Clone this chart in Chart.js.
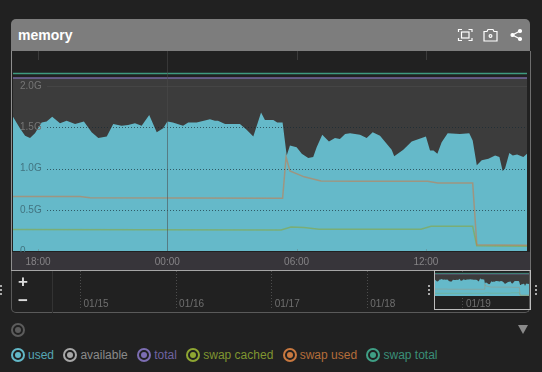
<!DOCTYPE html>
<html>
<head>
<meta charset="utf-8">
<title>memory</title>
<script src="https://cdn.jsdelivr.net/npm/chart.js@4"></script>
<style>
  html, body { margin: 0; padding: 0; background: #212121; }
  body { width: 542px; height: 372px; position: relative; overflow: hidden; font-family: "Liberation Sans", Arial, sans-serif; }
  .abs { position: absolute; }
  #header { left: 11px; top: 19px; width: 519px; height: 32px; background: #7d7d7d; border-radius: 5px 5px 0 0; }
  #title { left: 18px; top: 27px; font-size: 14px; line-height: 16px; font-weight: bold; color: #fff; }
  #mainWrap { left: 12px; top: 51px; width: 518px; height: 219px; }
  #miniWrap { left: 12px; top: 271px; width: 518px; height: 39px; }
  #leftLine { left: 11px; top: 51px; width: 1px; height: 219px; background: #8f8f8f; }
  #rightLine { left: 530px; top: 51px; width: 1px; height: 219px; background: #6e6e6e; }
  #midLine { left: 11px; top: 270px; width: 520px; height: 1px; background: #a5a5a5; }
  #miniBox { left: 11px; top: 271px; width: 519px; height: 42px; box-sizing: border-box; border-left: 1px solid #5a5a5a; border-right: 1px solid #5a5a5a; border-bottom: 1px solid #5a5a5a; border-radius: 0 0 5px 5px; }
  #btnLine { left: 52px; top: 271px; width: 1px; height: 42px; background: #333; }
  .zoomBtn { left: 13px; width: 20px; text-align: center; font-size: 17px; line-height: 18px; font-weight: bold; color: #dcdcdc; }
  #selWin { left: 434px; top: 270px; width: 97px; height: 40px; box-sizing: border-box; border: 1px solid #bdbdbd; }
  .grip { width: 2px; height: 2px; top: 289px; background: #aaa; box-shadow: 0 -4px 0 #aaa, 0 4px 0 #aaa; }
  #legend { left: 11px; top: 348px; display: flex; gap: 9.4px; font-size: 12px; line-height: 14px; }
  .item { display: flex; align-items: center; gap: 3px; }
  .dot { width: 14px; height: 14px; box-sizing: border-box; border-radius: 50%; border: 2px solid currentColor; position: relative; display: block; }
  .dot::after { content: ""; position: absolute; left: 2px; top: 2px; width: 6px; height: 6px; border-radius: 50%; background: currentColor; }
</style>
</head>
<body>
<div class="abs" id="header"></div>
<div class="abs" id="title">memory</div>
<svg class="abs" style="left:456px;top:27px" width="68" height="16" fill="none" stroke="#fff" stroke-width="1.2">
  <path d="M2.500 5V2.500H6M12.500 2.500H16V5M2.500 11V13.500H6M12.500 13.500H16V11"/>
  <rect x="5.500" y="5" width="7.500" height="6"/>
  <path d="M28 4.500H31L32 2.500H37L38 4.500H41V14H28Z"/>
  <circle cx="34.500" cy="9" r="1.400"/>
  <circle cx="64" cy="4" r="1.500" fill="#fff"/>
  <circle cx="64" cy="12" r="1.500" fill="#fff"/>
  <circle cx="56.500" cy="8" r="1.500" fill="#fff"/>
  <path d="M64 4L56.500 8L64 12" stroke-width="1.300"/>
</svg>
<div class="abs" id="mainWrap"><canvas id="mainChart" width="518" height="219"></canvas></div>
<div class="abs" id="leftLine"></div>
<div class="abs" id="rightLine"></div>
<div class="abs" id="midLine"></div>
<div class="abs" id="miniWrap"><canvas id="miniChart" width="518" height="39"></canvas></div>
<div class="abs" id="miniBox"></div>
<div class="abs" id="btnLine"></div>
<div class="abs zoomBtn" style="top:273px">+</div>
<div class="abs zoomBtn" style="top:292px">−</div>
<div class="abs" id="selWin"></div>
<div class="abs grip" style="left:0"></div>
<div class="abs grip" style="left:428px"></div>
<div class="abs grip" style="left:535px"></div>
<div class="abs dot" style="left:11px;top:323px;color:#5c5c5c"></div>
<svg class="abs" style="left:518px;top:325px" width="10" height="9"><path d="M0 0H10L5 9Z" fill="#8a8a8a"/></svg>
<div class="abs" id="legend"></div>

<script>
// hours counted from 18:00 on 01/18
const usedHours = [-1.16, -0.84, -0.6, -0.37, -0.14, 0.17, 0.4, 0.66, 1.02, 1.33, 1.72, 2.13, 2.49, 2.8, 3.19, 3.49, 3.88, 4.18, 4.5, 4.81, 5.16, 5.51, 5.81, 6, 6.26, 6.73, 6.97, 7.36, 7.98, 8.21, 8.35, 8.68, 9.37, 9.68, 9.99, 10.35, 10.53, 10.92, 11.1, 11.35, 11.54, 11.69, 12, 12.24, 12.54, 12.77, 12.93, 13.19, 13.5, 13.78, 14.01, 14.25, 14.48, 14.94, 15.25, 15.53, 15.87, 16.41, 16.53, 16.95, 17.34, 18, 18.19, 18.35, 18.53, 18.73, 19.01, 19.58, 20.01, 20.17, 20.36, 20.59, 20.9, 21.21, 21.41, 21.56, 21.67, 21.87, 22.03, 22.23, 22.52, 22.69];
const usedValues = [1.63, 1.49, 1.4, 1.37, 1.43, 1.56, 1.57, 1.63, 1.55, 1.58, 1.54, 1.57, 1.44, 1.37, 1.39, 1.54, 1.52, 1.53, 1.55, 1.52, 1.65, 1.44, 1.49, 1.57, 1.56, 1.52, 1.56, 1.56, 1.6, 1.58, 1.58, 1.54, 1.54, 1.47, 1.39, 1.68, 1.59, 1.59, 1.56, 1.56, 1.16, 1.28, 1.26, 1.18, 1.13, 1.14, 1.26, 1.41, 1.33, 1.37, 1.36, 1.42, 1.43, 1.41, 1.37, 1.44, 1.4, 1.23, 1.15, 1.23, 1.33, 1.39, 1.22, 1.22, 1.18, 1.32, 1.43, 1.42, 1.43, 1.34, 1.04, 1.1, 1.12, 1.16, 1.14, 0.97, 1, 1.19, 1.16, 1.17, 1.14, 1.18];
const swapUsedHours = [-1.16, 1.95, 2.41, 11.35, 11.51, 11.69, 12.35, 13.13, 14.66, 18.08, 18.55, 20.17, 20.36, 22.69];
const swapUsedValues = [0.66, 0.66, 0.645, 0.64, 1.14, 0.97, 0.9, 0.85, 0.845, 0.845, 0.825, 0.825, 0.077, 0.07];
const swapCachedHours = [-1.16, 11.28, 11.74, 12.34, 13.04, 17.77, 18.24, 20.17, 20.36, 22.69];
const swapCachedValues = [0.26, 0.256, 0.29, 0.285, 0.265, 0.265, 0.3, 0.3, 0.065, 0.057];
const flatHours = [-1.16, 22.69];
const totalValues = [2.1, 2.1];
const availableValues = [2.1, 2.1];
const swapTotalValues = [2.155, 2.155];

const xTickHours = [0, 6, 12, 18];
const xTickLabels = ["18:00", "00:00", "06:00", "12:00"];
const yTickValues = [0, 0.5, 1, 1.5, 2];
const yTickLabels = ["0", "0.5G", "1.0G", "1.5G", "2.0G"];
const dayTickHours = [-90, -66, -42, -18, 6];
const dayTickLabels = ["01/15", "01/16", "01/17", "01/18", "01/19"];

const legendNames = ["used", "available", "total", "swap cached", "swap used", "swap total"];
const legendIconColors = ["#62b8c8", "#a8a8a8", "#7c6db2", "#8ea632", "#c8783f", "#3f9f85"];
const legendTextColors = ["#55a5b4", "#8a8a8a", "#6f63a2", "#7f9530", "#b46d3a", "#3a8f78"];

function points(hours, values) {
  return hours.map((h, i) => ({ x: h, y: values[i] }));
}

// same series for the big chart and the overview
function buildDatasets(lineWidth, lineAlpha) {
  return [
    { data: points(flatHours, swapTotalValues), borderColor: "#3f9a80", borderWidth: lineWidth, fill: false, order: 1 },
    { data: points(flatHours, totalValues), borderColor: "#75689f", borderWidth: lineWidth, fill: false, order: 2 },
    { data: points(swapUsedHours, swapUsedValues), borderColor: "rgba(205,120,70," + lineAlpha + ")", borderWidth: lineWidth, fill: false, order: 3 },
    { data: points(swapCachedHours, swapCachedValues), borderColor: "rgba(140,165,50," + lineAlpha + ")", borderWidth: lineWidth, fill: false, order: 4 },
    { data: points(usedHours, usedValues), borderColor: "#65b9c9", backgroundColor: "#65b9c9", borderWidth: 0, fill: "origin", order: 5 },
    { data: points(flatHours, availableValues), borderColor: "#3c3c3c", backgroundColor: "#3c3c3c", borderWidth: 0, fill: "origin", order: 6 },
  ];
}

// dotted levels, the midnight line and short hour marks on top of the areas
const gridOverlay = {
  id: "gridOverlay",
  afterDatasetsDraw(chart) {
    const { ctx, chartArea, scales } = chart;
    ctx.save();
    ctx.lineWidth = 1;
    yTickValues.forEach((v) => {
      if (v === 0) return;
      const y = Math.round(scales.y.getPixelForValue(v)) + 0.5;
      ctx.strokeStyle = v === 2 ? "rgba(255,255,255,0.05)" : "rgba(20,40,50,0.65)";
      ctx.setLineDash(v === 2 ? [] : [1, 2]);
      ctx.beginPath();
      ctx.moveTo(chartArea.left + 34, y);
      ctx.lineTo(chartArea.right, y);
      ctx.stroke();
    });
    ctx.setLineDash([]);
    xTickHours.forEach((h) => {
      const x = Math.round(scales.x.getPixelForValue(h)) + 0.5;
      ctx.strokeStyle = h === 6 ? "rgba(75,75,75,0.55)" : "rgba(110,110,110,0.35)";
      ctx.beginPath();
      if (h === 6) {
        ctx.moveTo(x, chartArea.top);
        ctx.lineTo(x, chartArea.bottom);
      } else {
        ctx.moveTo(x, chartArea.top);
        ctx.lineTo(x, chartArea.top + 9);
        ctx.moveTo(x, chartArea.bottom - 2);
        ctx.lineTo(x, chartArea.bottom);
      }
      ctx.stroke();
    });
    ctx.restore();
  },
  // the time band sits over the foot of the "0" label
  afterDraw(chart) {
    const { ctx, chartArea, width, height, scales } = chart;
    ctx.save();
    ctx.fillStyle = "#37353a";
    ctx.fillRect(0, chartArea.bottom + 1, width, height - chartArea.bottom - 1);
    scales.x.drawLabels(chartArea);
    ctx.restore();
  },
};

new Chart(document.getElementById("mainChart"), {
  type: "line",
  data: { datasets: buildDatasets(1.5, 0.55) },
  plugins: [gridOverlay],
  options: {
    responsive: false,
    animation: false,
    layout: { padding: { left: 1, right: 3, top: 0, bottom: 0 } },
    elements: { point: { radius: 0 }, line: { tension: 0 } },
    plugins: { legend: { display: false }, tooltip: { enabled: false } },
    scales: {
      x: {
        type: "linear",
        min: -1.16,
        max: 22.69,
        afterBuildTicks(scale) { scale.ticks = xTickHours.map((h) => ({ value: h })); },
        afterFit(scale) { scale.height = 19; scale.paddingLeft = 0; scale.paddingRight = 0; },
        grid: { display: false, drawTicks: false },
        border: { display: false },
        ticks: {
          autoSkip: false,
          maxRotation: 0,
          padding: 5,
          color: "#858386",
          font: { size: 10, family: "Liberation Sans" },
          callback: (v) => xTickLabels[xTickHours.indexOf(v)],
        },
      },
      y: {
        min: 0,
        max: 2.427,
        afterBuildTicks(scale) { scale.ticks = yTickValues.map((v) => ({ value: v })); },
        afterFit(scale) { scale.width = 0; scale.paddingTop = 0; scale.paddingBottom = 0; },
        grid: { display: false, drawTicks: false },
        border: { display: false },
        ticks: {
          mirror: true,
          z: 1,
          padding: 7,
          color: (c) => (c.tick.value >= 1.5 ? "#757575" : "#427480"),
          font: { size: 10, family: "Liberation Sans" },
          callback: (v) => yTickLabels[yTickValues.indexOf(v)],
        },
      },
    },
  },
});

new Chart(document.getElementById("miniChart"), {
  type: "line",
  data: { datasets: buildDatasets(0.8, 0.35) },
  options: {
    responsive: false,
    animation: false,
    layout: { padding: 0 },
    elements: { point: { radius: 0 }, line: { tension: 0 } },
    plugins: { legend: { display: false }, tooltip: { enabled: false } },
    scales: {
      x: {
        type: "linear",
        min: -107.2,
        max: 22.85,
        afterBuildTicks(scale) { scale.ticks = dayTickHours.map((h) => ({ value: h })); },
        afterFit(scale) { scale.height = 0; scale.paddingLeft = 0; scale.paddingRight = 0; },
        grid: { color: "#4d4d4d", drawTicks: false },
        border: { display: false, dash: [1, 2] },
        ticks: {
          autoSkip: false,
          maxRotation: 0,
          mirror: true,
          align: "start",
          labelOffset: 3,
          padding: 0,
          color: "#6f6f6f",
          font: { size: 10, family: "Liberation Sans" },
          callback: (v) => dayTickLabels[dayTickHours.indexOf(v)],
        },
      },
      y: { display: false, min: -1.33, max: 2.38 },
    },
  },
});

// legend row
const legend = document.getElementById("legend");
legendNames.forEach((name, i) => {
  const item = document.createElement("div");
  item.className = "item";
  item.innerHTML = '<span class="dot" style="color:' + legendIconColors[i] + '"></span><span style="color:' + legendTextColors[i] + '">' + name + "</span>";
  legend.appendChild(item);
});
</script>
</body>
</html>
